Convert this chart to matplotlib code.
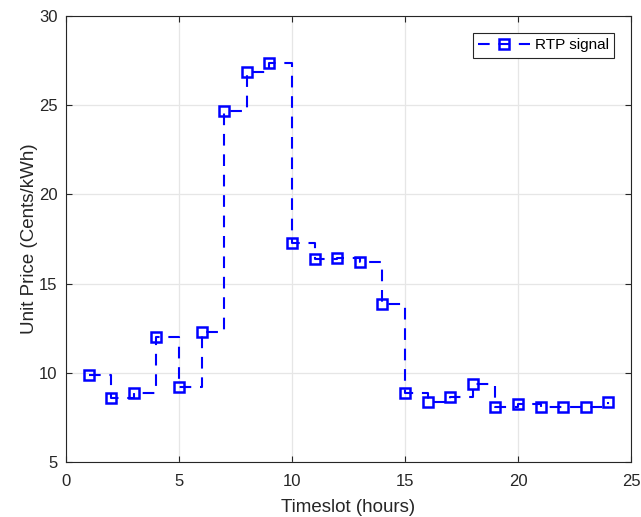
import numpy as np
import matplotlib.pyplot as plt

plt.rcParams['font.family'] = ['Liberation Sans', 'DejaVu Sans']

# hourly real-time price signal
hours = np.arange(1, 25)
price = [9.85, 8.6, 8.85, 12.0, 9.2, 12.3, 24.7, 26.85, 27.35, 17.3, 16.4, 16.45,
         16.2, 13.85, 8.85, 8.35, 8.65, 9.35, 8.1, 8.25, 8.1, 8.1, 8.1, 8.35]

fig = plt.figure(figsize=(6.41, 5.17), dpi=100)
ax = fig.add_axes([66/641, 1 - 462/517, (631 - 66)/641, (462 - 16)/517])

ax.plot(hours, price, drawstyle='steps-post', color='#0000ff', linestyle='--',
        linewidth=1.5, dashes=(5.6, 4.2), marker='s', markersize=7.5,
        markerfacecolor='none', markeredgewidth=1.8, label='RTP signal')

ax.set_xlim(0, 25)
ax.set_ylim(5, 30)
ax.set_xticks([0, 5, 10, 15, 20, 25])
ax.set_yticks([5, 10, 15, 20, 25, 30])
ax.grid(True, color='#e6e6e6', linewidth=0.9)
ax.set_axisbelow(True)
ax.tick_params(direction='in', labelsize=12, length=4, color='#262626',
               labelcolor='#262626', top=True, right=True)
ax.tick_params(axis='x', pad=9)
ax.tick_params(axis='y', pad=6)
for s in ax.spines.values():
    s.set_color('#262626')
    s.set_linewidth(0.8)

ax.set_xlabel('Timeslot (hours)', fontsize=13.5, labelpad=7, color='#262626')
ax.set_ylabel('Unit Price (Cents/kWh)', fontsize=13.5, labelpad=1, color='#262626')

leg = ax.legend(loc='upper right', fontsize=11, fancybox=False, framealpha=1,
                edgecolor='#262626', borderaxespad=1.1, handlelength=3.4,
                borderpad=0.35, handletextpad=0.3)
leg.get_frame().set_linewidth(0.8)

fig.savefig('out.png', dpi=100)
